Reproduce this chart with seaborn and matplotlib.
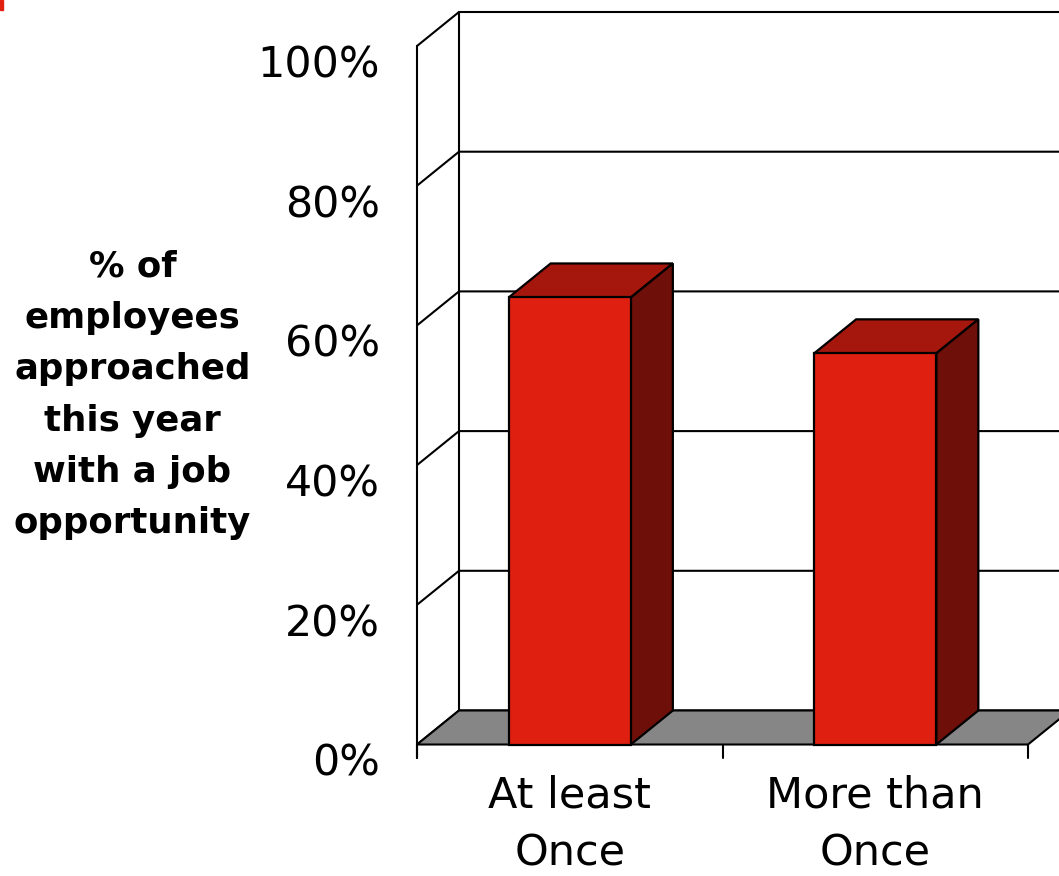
import seaborn as sns
import numpy as np
import matplotlib.pyplot as plt
import pandas as pd
from matplotlib.patches import Polygon, Rectangle

# data
categories = ['At least\nOnce', 'More than\nOnce']
values = [64, 56]
y_ticks = [0, 20, 40, 60, 80, 100]
y_tick_labels = ['0%', '20%', '40%', '60%', '80%', '100%']
y_title = ['% of', 'employees', 'approached', 'this year', 'with a job', 'opportunity']

front_red = '#DF1F10'
top_red = '#A5170C'
side_red = '#6F0F09'
floor_grey = '#868686'

sns.set_theme(style='white')
plt.rcParams['font.family'] = ['DejaVu Sans']

W, H = 1059, 876
fig = plt.figure(figsize=(W / 100, H / 100), dpi=100)
ax = fig.add_axes([0, 0, 1, 1])

# pixel layout of the slide
x0_px, unit_px = 417, 305.5     # front axis x, px per category
y0_px, pct_px = 744.5, 6.985    # 0% on the front, px per percent
dx, dy = 42 / unit_px, 34 / pct_px   # 3d depth offset


def px_x(p):
    return -0.5 + (p - x0_px) / unit_px


def px_y(p):
    return (y0_px - p) / pct_px


n = len(categories)
left, right = -0.5, n - 0.5

# bars (front faces)
df = pd.DataFrame({'category': categories, 'value': values})
sns.barplot(data=df, x='category', y='value', color=front_red, width=0.4,
            saturation=1, edgecolor='black', linewidth=1.6, ax=ax, zorder=5)
bars = list(ax.patches)

# walls and gridlines
for t in y_ticks:
    ax.plot([left, left + dx, right + dx], [t, t + dy, t + dy],
            color='black', lw=1.5, zorder=1, solid_joinstyle='miter')
ax.plot([left + dx, left + dx], [dy, 100 + dy], color='black', lw=1.5, zorder=1)
ax.plot([left, left], [px_y(758), 100], color='black', lw=1.5, zorder=1)
for c in np.arange(left, right + 1):
    ax.plot([c, c], [px_y(758), 0], color='black', lw=1.5, zorder=1)

# floor
ax.add_patch(Polygon([(left, 0), (right, 0), (right + dx, dy), (left + dx, dy)],
                     closed=True, fc=floor_grey, ec='black', lw=1.5, zorder=2,
                     joinstyle='miter'))

# top and side faces of the bars
for b in bars:
    x0, w, h = b.get_x(), b.get_width(), b.get_height()
    x1 = x0 + w
    top = [(x0, h), (x0 + dx, h + dy), (x1 + dx, h + dy), (x1, h)]
    side = [(x1, 0), (x1 + dx, dy), (x1 + dx, h + dy), (x1, h)]
    ax.add_patch(Polygon(top, closed=True, fc=top_red, ec='black', lw=1.6,
                         zorder=4, joinstyle='miter'))
    ax.add_patch(Polygon(side, closed=True, fc=side_red, ec='black', lw=1.6,
                         zorder=4, joinstyle='miter'))

# tick labels
for t, lab in zip(y_ticks, y_tick_labels):
    ax.text(px_x(380), t - 31.5 / pct_px, lab, ha='right', va='baseline',
            fontsize=30.8, color='black')

# category labels, kept inside the bottom edge
for i, cat in enumerate(categories):
    for j, line in enumerate(cat.split('\n')):
        ax.text(i, px_y(808 + 57 * j), line, ha='center', va='baseline',
                fontsize=31, color='black')

for j, line in enumerate(y_title):
    ax.text(px_x(132.5), px_y(277 + 51.2 * j), line, ha='center', va='baseline',
            fontsize=25.6, fontweight='bold', color='black')

ax.set_xlim(px_x(0), px_x(W))
ax.set_ylim(px_y(H), px_y(0))
ax.axis('off')

# small red mark at the corner of the slide
fig.patches.append(Rectangle((0, 1 - 10 / H), 3 / W, 10 / H,
                             transform=fig.transFigure, color='#E02010'))

fig.savefig('out.png', dpi=100)
